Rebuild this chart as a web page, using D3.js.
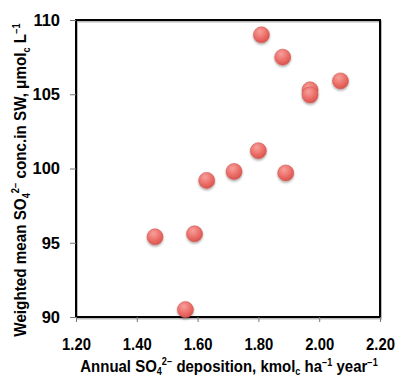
<!DOCTYPE html>
<html>
<head>
<meta charset="utf-8">
<script src="https://cdn.jsdelivr.net/npm/d3@7"></script>
<style>
  body { margin: 0; background: #fff; }
  text { font-family: "Liberation Sans", Arial, sans-serif; font-weight: bold; }
</style>
</head>
<body>
<div id="chart"></div>
<script>
// deposition (kmolc/ha/yr) vs weighted mean SO4 conc in SW
var deposition = [1.81, 1.88, 1.97, 1.97, 2.07, 1.80, 1.72, 1.63, 1.89, 1.59, 1.46, 1.56];
var concentration = [109.0, 107.5, 105.3, 104.95, 105.9, 101.2, 99.8, 99.2, 99.7, 95.6, 95.4, 90.5];
var xTicks = [1.2, 1.4, 1.6, 1.8, 2.0, 2.2];
var yTicks = [90, 95, 100, 105, 110];

var width = 396, height = 378;
var margin = {top: 20, right: 16, bottom: 61, left: 76};

var svg = d3.select("#chart").append("svg")
  .attr("width", width)
  .attr("height", height);

var defs = svg.append("defs");
var grad = defs.append("radialGradient")
  .attr("id", "dot")
  .attr("cx", "40%").attr("cy", "30%").attr("r", "70%");
grad.append("stop").attr("offset", "0%").attr("stop-color", "#f6a09b");
grad.append("stop").attr("offset", "60%").attr("stop-color", "#ec6f69");
grad.append("stop").attr("offset", "100%").attr("stop-color", "#d9544f");

var shadow = defs.append("filter").attr("id", "shadow")
  .attr("x", "-50%").attr("y", "-50%").attr("width", "200%").attr("height", "200%");
shadow.append("feDropShadow")
  .attr("dx", 0).attr("dy", 1.5).attr("stdDeviation", 1.2)
  .attr("flood-color", "#000").attr("flood-opacity", 0.35);

var x = d3.scaleLinear().domain([1.2, 2.2]).range([margin.left, width - margin.right]);
var y = d3.scaleLinear().domain([90, 110]).range([height - margin.bottom, margin.top]);

// frame with a light shadow
svg.append("rect")
  .attr("x", x(1.2) + 1).attr("y", y(110) + 1.5)
  .attr("width", x(2.2) - x(1.2)).attr("height", y(90) - y(110))
  .attr("fill", "none").attr("stroke", "#bbb").attr("stroke-width", 2);
svg.append("rect")
  .attr("x", x(1.2)).attr("y", y(110))
  .attr("width", x(2.2) - x(1.2)).attr("height", y(90) - y(110))
  .attr("fill", "none").attr("stroke", "#000").attr("stroke-width", 2);

var xAxis = svg.append("g")
  .attr("transform", "translate(0," + y(90) + ")")
  .call(d3.axisBottom(x).tickValues(xTicks).tickFormat(d3.format(".2f")).tickSize(5).tickPadding(16));
var yAxis = svg.append("g")
  .attr("transform", "translate(" + x(1.2) + ",0)")
  .call(d3.axisLeft(y).tickValues(yTicks).tickSize(6).tickPadding(10));

[xAxis, yAxis].forEach(function(g) {
  g.select(".domain").remove();
  g.selectAll(".tick line").attr("stroke", "#777");
  g.selectAll(".tick text").attr("fill", "#000").style("font-size", "16.5px");
});
xAxis.selectAll(".tick text").attr("transform", "scale(0.9,1)");

svg.append("g").selectAll("circle")
  .data(deposition)
  .enter().append("circle")
  .attr("cx", function(d) { return x(d); })
  .attr("cy", function(d, i) { return y(concentration[i]); })
  .attr("r", 8)
  .attr("fill", "url(#dot)")
  .attr("stroke", "#d45a55")
  .attr("stroke-width", 0.6)
  .attr("filter", "url(#shadow)");

// x axis title
var xt = svg.append("text")
  .attr("text-anchor", "middle")
  .style("font-size", "16.5px");
xt.append("tspan").text("Annual SO");
xt.append("tspan").attr("dy", 3).style("font-size", "10px").text("4");
xt.append("tspan").attr("dy", -10).style("font-size", "10px").text("2\u2212");
xt.append("tspan").attr("dy", 7).text(" deposition, kmol");
xt.append("tspan").attr("dy", 3).style("font-size", "10px").text("c");
xt.append("tspan").attr("dy", -3).text(" ha");
xt.append("tspan").attr("dy", -6).style("font-size", "10px").text("\u22121");
xt.append("tspan").attr("dy", 6).text(" year");
xt.append("tspan").attr("dy", -6).style("font-size", "10px").text("\u22121");
var xw = xt.node().getBBox().width;
xt.attr("transform", "translate(229,372) scale(" + (298 / xw) + ",1)");

// y axis title
var yt = svg.append("text")
  .attr("text-anchor", "middle")
  .style("font-size", "16.5px");
yt.append("tspan").text("Weighted mean SO");
yt.append("tspan").attr("dy", 4).style("font-size", "10px").text("4");
yt.append("tspan").attr("dy", -11).style("font-size", "10px").text("2\u2212");
yt.append("tspan").attr("dy", 7).text("  conc.in SW,  \u03bcmol");
yt.append("tspan").attr("dy", 4).style("font-size", "10px").text("c");
yt.append("tspan").attr("dy", -4).text(" L");
yt.append("tspan").attr("dy", -6).style("font-size", "10px").text("\u22121");
var yw = yt.node().getBBox().width;
yt.attr("transform", "translate(26,180) rotate(-90) scale(" + (314 / yw) + ",1)");
</script>
</body>
</html>
